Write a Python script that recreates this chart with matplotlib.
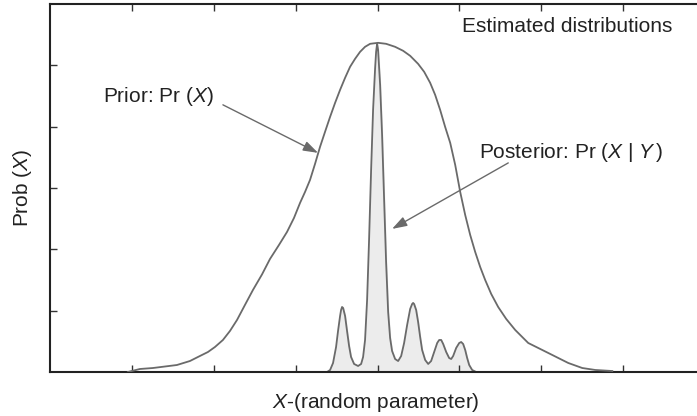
import matplotlib
matplotlib.use("Agg")
import matplotlib.pyplot as plt

plt.rcParams['font.family'] = ['Liberation Sans', 'DejaVu Sans']
plt.rcParams['mathtext.fontset'] = 'custom'
plt.rcParams['mathtext.rm'] = 'Liberation Sans'
plt.rcParams['mathtext.it'] = 'Liberation Sans:italic'

# prior curve
prior_x = [0.951, 1.098, 1.257, 1.550, 1.709, 1.831, 1.929, 2.015, 2.112, 2.198,
           2.284, 2.381, 2.479, 2.589, 2.687, 2.797, 2.895, 2.980, 3.054, 3.115,
           3.176, 3.237, 3.298, 3.359, 3.421, 3.482, 3.543, 3.604, 3.665, 3.726,
           3.787, 3.848, 3.910, 4.007, 4.105, 4.215, 4.313, 4.399, 4.496, 4.570,
           4.643, 4.704, 4.765, 4.826, 4.888, 4.949, 5.010, 5.071, 5.132, 5.193,
           5.254, 5.315, 5.389, 5.474, 5.572, 5.682, 5.841, 6.086, 6.330, 6.501,
           6.660, 6.868]
prior_y = [0.000, 0.049, 0.065, 0.114, 0.179, 0.261, 0.326, 0.408, 0.522, 0.669,
           0.848, 1.093, 1.338, 1.590, 1.843, 2.072, 2.284, 2.512, 2.757, 2.936,
           3.132, 3.393, 3.670, 3.915, 4.160, 4.388, 4.600, 4.796, 4.976, 5.106,
           5.220, 5.302, 5.351, 5.367, 5.351, 5.302, 5.237, 5.155, 5.024, 4.894,
           4.715, 4.519, 4.274, 3.997, 3.736, 3.377, 2.936, 2.561, 2.235, 1.958,
           1.713, 1.501, 1.272, 1.060, 0.865, 0.685, 0.473, 0.310, 0.147, 0.065,
           0.033, 0.016]

# posterior curve (shaded)
post_x = [3.384, 3.421, 3.457, 3.494, 3.518, 3.543, 3.555, 3.567, 3.580, 3.604,
          3.628, 3.653, 3.677, 3.714, 3.763, 3.800, 3.824, 3.848, 3.873, 3.897,
          3.922, 3.946, 3.971, 3.983, 3.995, 4.007, 4.032, 4.056, 4.081, 4.105,
          4.130, 4.154, 4.178, 4.215, 4.252, 4.289, 4.325, 4.362, 4.399, 4.423,
          4.435, 4.447, 4.472, 4.496, 4.521, 4.545, 4.582, 4.619, 4.655, 4.692,
          4.729, 4.753, 4.778, 4.802, 4.839, 4.875, 4.900, 4.924, 4.961, 4.998,
          5.022, 5.046, 5.071, 5.095, 5.120, 5.156, 5.205]
post_y = [0.000, 0.033, 0.147, 0.408, 0.669, 0.914, 1.011, 1.060, 1.044, 0.914,
          0.669, 0.424, 0.245, 0.131, 0.098, 0.131, 0.245, 0.522, 1.175, 2.153,
          3.295, 4.274, 4.959, 5.220, 5.351, 5.253, 4.682, 3.866, 2.806, 1.794,
          0.979, 0.555, 0.343, 0.212, 0.179, 0.261, 0.473, 0.767, 1.028, 1.109,
          1.126, 1.109, 1.011, 0.816, 0.571, 0.359, 0.196, 0.131, 0.179, 0.326,
          0.473, 0.522, 0.522, 0.457, 0.326, 0.228, 0.212, 0.261, 0.392, 0.473,
          0.489, 0.457, 0.359, 0.228, 0.114, 0.033, 0.000]

x_ticks = [1, 2, 3, 4, 5, 6, 7]
y_ticks = [1, 2, 3, 4, 5]

curve_col = '#6a6a6a'

fig = plt.figure(figsize=(6.97, 4.16), dpi=100)
ax = fig.add_axes([50 / 697, 44 / 416, 655 / 697, 368 / 416])

ax.fill_between(post_x, post_y, 0, color='#ececec', zorder=1)
ax.plot(post_x, post_y, color=curve_col, lw=1.3, zorder=2, solid_joinstyle='round')
ax.plot(prior_x, prior_y, color=curve_col, lw=1.3, zorder=3, solid_joinstyle='round')

ax.set_xlim(0, 8.0)
ax.set_ylim(0, 6.0)
ax.set_xticks(x_ticks)
ax.set_yticks(y_ticks)
ax.tick_params(direction='in', length=5, width=1.0, color='#333333',
               top=True, bottom=True, left=True, right=False,
               labelbottom=False, labelleft=False)
for side in ['left', 'bottom', 'top']:
    ax.spines[side].set_linewidth(1.5)
    ax.spines[side].set_color('#222222')
ax.spines['right'].set_visible(False)

# labels
fsz = 15
ax.text(0.645, 4.50, r'Prior: Pr ($X$)', fontsize=fsz, ha='left', va='center', color='#222222')
ax.text(5.242, 3.573, r'Posterior: Pr ($X\ |\ Y\,$)', fontsize=fsz, ha='left', va='center', color='#222222')
ax.text(7.601, 5.628, 'Estimated distributions', fontsize=fsz, ha='right', va='center', color='#222222')

arrow = dict(arrowstyle='-|>,head_length=0.9,head_width=0.3', color='#6a6a6a', lw=1.0,
             shrinkA=0, shrinkB=0)
ax.annotate('', xy=(3.274, 3.573), xytext=(2.112, 4.356), arrowprops=arrow)
ax.annotate('', xy=(4.178, 2.333), xytext=(5.597, 3.409), arrowprops=arrow)

fig.text(22 / 697, 1 - 188 / 416, r'Prob ($X$)', rotation=90, fontsize=fsz,
         ha='center', va='center', color='#222222')
fig.text(376 / 697, 1 - 402 / 416, r'$X$-(random parameter)', fontsize=fsz,
         ha='center', va='center', color='#222222')

fig.savefig('out.png', dpi=100)
